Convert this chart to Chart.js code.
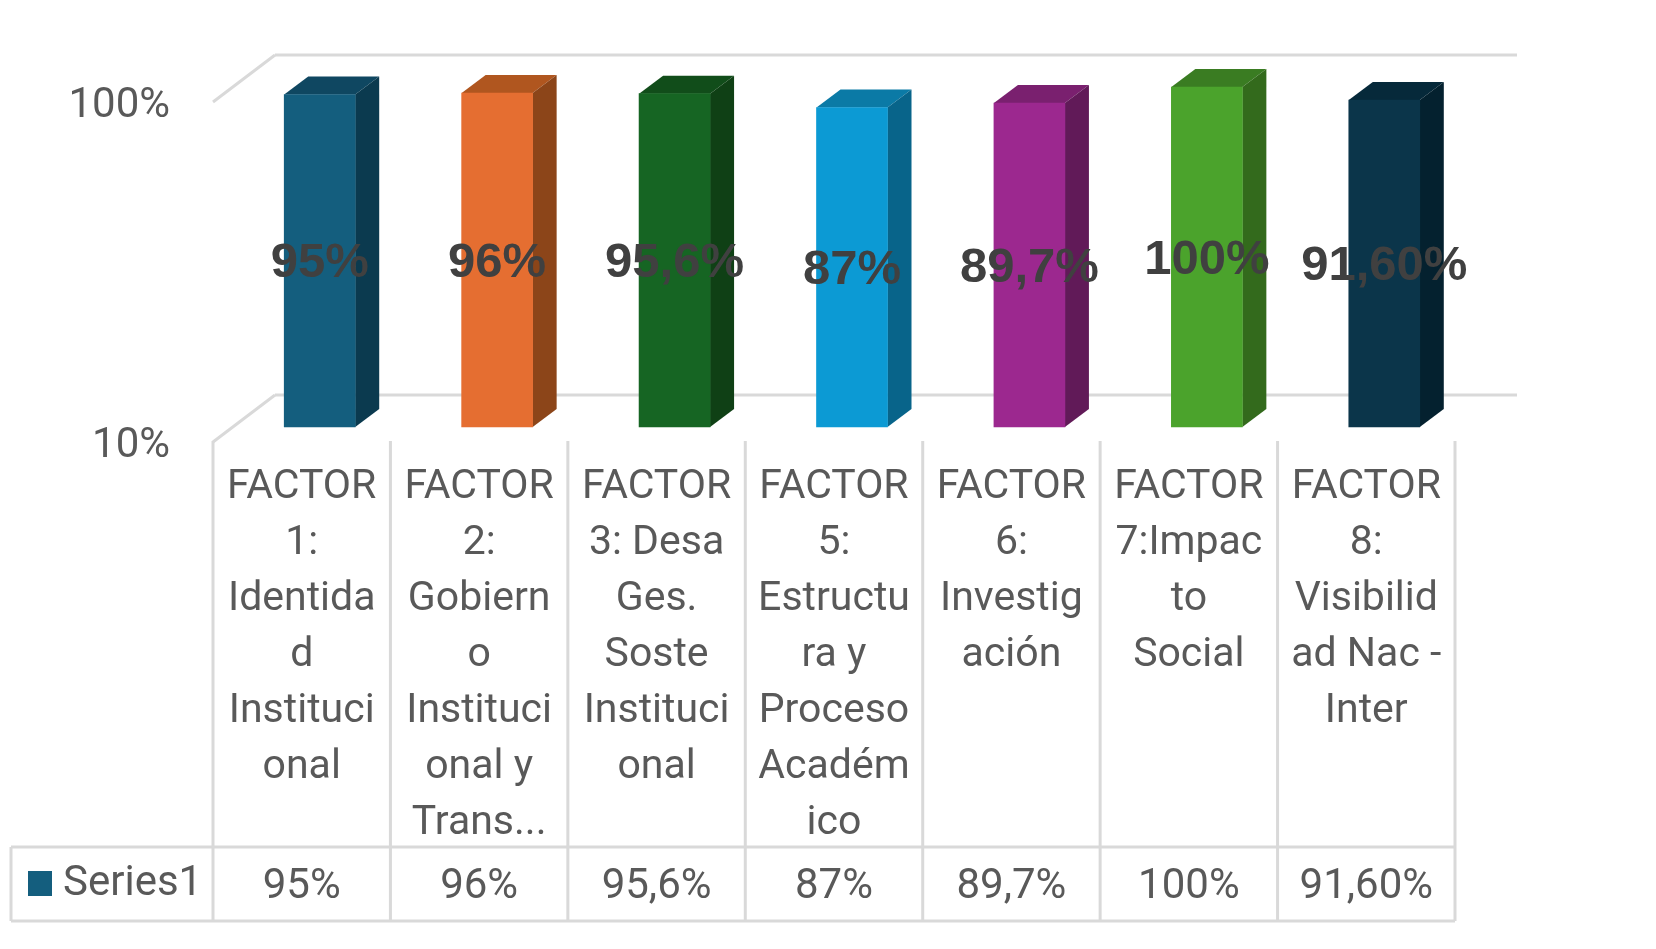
<!DOCTYPE html>
<html>
<head>
<meta charset="utf-8">
<title>Factores</title>
<script src="https://cdn.jsdelivr.net/npm/chart.js@4"></script>
<style>
  html, body { margin: 0; padding: 0; background: #fff; }
  canvas { display: block; }
</style>
</head>
<body>
<canvas id="chart" width="1656" height="949"></canvas>
<script>
// Data
const categories = [
  ['FACTOR', '1:', 'Identida', 'd', 'Instituci', 'onal'],
  ['FACTOR', '2:', 'Gobiern', 'o', 'Instituci', 'onal y', 'Trans...'],
  ['FACTOR', '3: Desa', 'Ges.', 'Soste', 'Instituci', 'onal'],
  ['FACTOR', '5:', 'Estructu', 'ra y', 'Proceso', 'Académ', 'ico'],
  ['FACTOR', '6:', 'Investig', 'ación'],
  ['FACTOR', '7:Impac', 'to', 'Social'],
  ['FACTOR', '8:', 'Visibilid', 'ad Nac -', 'Inter']
];
const values = [95, 96, 95.6, 87, 89.7, 100, 91.6];
const valueLabels = ['95%', '96%', '95,6%', '87%', '89,7%', '100%', '91,60%'];
const yTicks = [10, 100];
const seriesName = 'Series1';

// Colors of the three visible faces
const frontColors = ['#145E7E', '#E56E31', '#166523', '#0C9AD4', '#9C288F', '#4BA32C', '#0B354A'];
const topColors   = ['#0F4761', '#B0561F', '#114D1A', '#0B7AA6', '#7A206F', '#3A7C22', '#06293A'];
const sideColors  = ['#0B3A4F', '#8C4519', '#0F4015', '#08648A', '#611A58', '#336A1C', '#04212F'];

const INK = '#595959';
const LINE = '#D9D9D9';
const LABEL_FONT = 'Roboto, sans-serif';

// 3D look: bars stand in the middle of the floor
const BAR_DX = 24, BAR_DY = 18;
const FRONT_DX = 18, FRONT_DY = 15;   // front edge of the walls vs. the bars
const BACK_DX = 44, BACK_DY = 32;     // back edge of the walls vs. the bars

function poly(ctx, pts, color){
  ctx.beginPath();
  pts.forEach((p, i) => i ? ctx.lineTo(p[0], p[1]) : ctx.moveTo(p[0], p[1]));
  ctx.closePath();
  ctx.fillStyle = color;
  ctx.fill();
}

function seg(ctx, x1, y1, x2, y2){
  ctx.beginPath();
  ctx.moveTo(x1, y1);
  ctx.lineTo(x2, y2);
  ctx.stroke();
}

// Walls behind the bars + side/top faces
const wallsAndFaces = {
  id: 'wallsAndFaces',
  beforeDatasetsDraw(chart){
    const { ctx, chartArea: a, scales: { y } } = chart;
    ctx.save();
    ctx.strokeStyle = LINE;
    ctx.lineWidth = 3;
    yTicks.forEach(v => {
      const py = y.getPixelForValue(v);
      seg(ctx, a.left - FRONT_DX, py + FRONT_DY, a.left + BACK_DX, py - BACK_DY);
      seg(ctx, a.left + BACK_DX, py - BACK_DY, a.right + BACK_DX, py - BACK_DY);
    });
    chart.getDatasetMeta(0).data.forEach((bar, i) => {
      const l = bar.x - bar.width / 2, r = bar.x + bar.width / 2;
      poly(ctx, [[l, bar.y], [l + BAR_DX, bar.y - BAR_DY], [r + BAR_DX, bar.y - BAR_DY], [r, bar.y]], topColors[i]);
      poly(ctx, [[r, bar.y], [r + BAR_DX, bar.y - BAR_DY], [r + BAR_DX, bar.base - BAR_DY], [r, bar.base]], sideColors[i]);
    });
    ctx.restore();
  }
};

// Data labels and the data table under the axis
const labelsAndTable = {
  id: 'labelsAndTable',
  afterDatasetsDraw(chart){
    const { ctx, scales: { x, y } } = chart;
    const bars = chart.getDatasetMeta(0).data;
    ctx.save();

    ctx.textAlign = 'center';
    ctx.textBaseline = 'middle';
    ctx.fillStyle = '#404040';
    ctx.font = 'bold 49px "Liberation Sans", sans-serif';
    bars.forEach((bar, i) => {
      ctx.fillText(valueLabels[i], bar.x, (bar.y + bar.base) / 2 + 3);
    });

    // table
    const cell = (x.getPixelForValue(1) - x.getPixelForValue(0));
    const left = x.getPixelForValue(0) - cell / 2 - FRONT_DX;
    const top = y.getPixelForValue(10) + FRONT_DY - 1;
    const rowTop = 847, rowBottom = 921, keyLeft = 11;
    ctx.strokeStyle = LINE;
    ctx.lineWidth = 3;
    for (let i = 0; i <= categories.length; i++) {
      seg(ctx, left + i * cell, top, left + i * cell, rowBottom);
    }
    const right = left + categories.length * cell;
    seg(ctx, keyLeft, rowTop, right, rowTop);
    seg(ctx, keyLeft, rowBottom, right, rowBottom);
    seg(ctx, keyLeft, rowTop, keyLeft, rowBottom);

    ctx.font = '42px ' + LABEL_FONT;
    ctx.fillStyle = INK;
    valueLabels.forEach((t, i) => {
      ctx.fillText(t, left + (i + 0.5) * cell, 887);
    });

    ctx.textAlign = 'left';
    ctx.fillText(seriesName, 63, 884);
    ctx.fillStyle = frontColors[0];
    ctx.fillRect(28, 871, 24, 25);
    ctx.restore();
  }
};

new Chart(document.getElementById('chart'), {
  type: 'bar',
  data: {
    labels: categories,
    datasets: [{
      label: seriesName,
      data: values,
      base: 10,
      backgroundColor: frontColors,
      barThickness: 71,
      clip: false
    }]
  },
  options: {
    responsive: false,
    animation: false,
    devicePixelRatio: 1,
    layout: { padding: { top: 87, right: 183, left: 0, bottom: 0 } },
    plugins: { legend: { display: false }, tooltip: { enabled: false }, title: { display: false } },
    scales: {
      x: {
        type: 'category',
        grid: { display: false, drawTicks: false },
        border: { display: false },
        afterFit: s => { s.height = 522; },
        ticks: {
          color: INK,
          font: { family: LABEL_FONT, size: 41, lineHeight: 56 / 41 },
          labelOffset: -FRONT_DX,
          padding: 33,
          maxRotation: 0,
          minRotation: 0,
          autoSkip: false
        }
      },
      y: {
        type: 'logarithmic',
        min: 10,
        max: 100,
        grid: { display: false, drawTicks: false },
        border: { display: false },
        afterFit: s => { s.width = 231; },
        afterBuildTicks: s => { s.ticks = yTicks.map(v => ({ value: v })); },
        ticks: {
          color: INK,
          font: { family: LABEL_FONT, size: 42 },
          labelOffset: FRONT_DY + 4,
          padding: 61,
          callback: v => v + '%'
        }
      }
    }
  },
  plugins: [wallsAndFaces, labelsAndTable]
});
</script>
</body>
</html>
